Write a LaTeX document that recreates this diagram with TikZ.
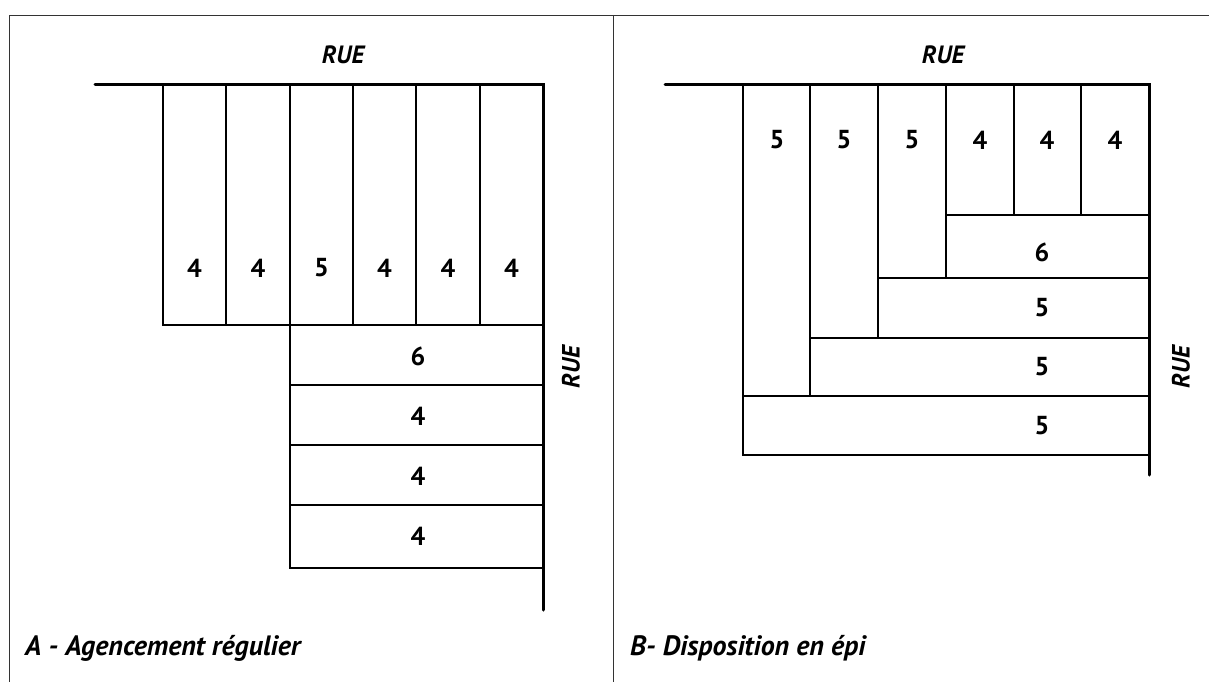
\documentclass[tikz,border=0pt]{standalone}
\usepackage{fontspec}
\setmainfont{PT Sans}
\begin{document}
\begin{tikzpicture}[x=1pt,y=-1pt,
  frame/.style={line width=0.9pt,black!80},
  lot/.style={line width=1.5pt},
  street/.style={line width=3pt,line cap=round},
  num/.style={font=\bfseries\fontsize{26}{26}\selectfont,inner sep=0pt},
  rue/.style={font=\bfseries\itshape\fontsize{25}{25}\selectfont,inner sep=0pt},
  caption/.style={font=\bfseries\itshape\fontsize{28}{28}\selectfont,inner sep=0pt,anchor=west}]
\useasboundingbox (0,0) rectangle (1209,682);
% frame
\draw[frame] (9,682) -- (9,15) -- (1209,15);
\draw[frame] (613,15) -- (613,682);
% ---------- Panel A ----------
\foreach \a/\b in {163/226,226/290,290/353,353/416,416/480,480/543}
  \draw[lot] (\a,85) rectangle (\b,325);
\foreach \a/\b in {325/385,385/445,445/505,505/568}
  \draw[lot] (290,\a) rectangle (543,\b);
\draw[street] (95,85) -- (543,85) -- (543,610);
\foreach \x/\n [count=\i] in {194.5/4,258/4,321.5/5,384.5/4,448/4,511.5/4}
  \node[num] (at\i) at (\x,268) {\n};
\foreach \y/\n [count=\i] in {356/6,416/4,476/4,536/4}
  \node[num] (al\i) at (418,\y) {\n};
\node[rue] (rueAt) at (343,55) {RUE};
\node[rue,rotate=90] (rueAr) at (571,367) {RUE};
\node[caption] (capA) at (25,648) {A - Agencement régulier};
% ---------- Panel B ----------
\draw[lot] (743,85) rectangle (810,396);
\draw[lot] (810,85) rectangle (878,338);
\draw[lot] (878,85) rectangle (946,278);
\draw[lot] (946,85) rectangle (1014,215);
\draw[lot] (1014,85) rectangle (1081,215);
\draw[lot] (1081,85) rectangle (1149,215);
\draw[lot] (946,215) rectangle (1149,278);
\draw[lot] (878,278) rectangle (1149,338);
\draw[lot] (810,338) rectangle (1149,396);
\draw[lot] (743,396) rectangle (1149,455);
\draw[street] (665,85) -- (1149,85) -- (1149,475);
\foreach \x/\n [count=\i] in {777/5,844/5,912/5,980/4,1047/4,1115/4}
  \node[num] (bt\i) at (\x,140) {\n};
\foreach \y/\n [count=\i] in {252/6,308/5,367/5,426/5}
  \node[num] (bl\i) at (1042,\y) {\n};
\node[rue] (rueBt) at (943,55) {RUE};
\node[rue,rotate=90] (rueBr) at (1181,367) {RUE};
\node[caption] (capB) at (630,648) {B- Disposition en épi};
\end{tikzpicture}
\end{document}
